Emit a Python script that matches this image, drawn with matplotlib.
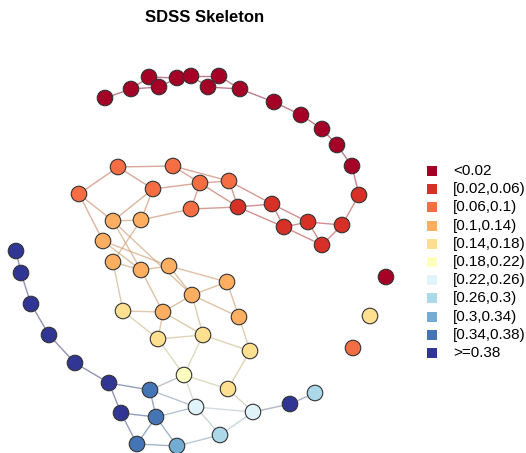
import numpy as np
import matplotlib
import matplotlib.pyplot as plt
from matplotlib.collections import LineCollection
from matplotlib.colors import to_rgb

matplotlib.use('agg')
plt.rcParams['font.family'] = ['Liberation Sans', 'DejaVu Sans']

# legend classes (RdYlBu, 11 bins)
class_labels = ['<0.02', '[0.02,0.06)', '[0.06,0.1)', '[0.1,0.14)', '[0.14,0.18)',
                '[0.18,0.22)', '[0.22,0.26)', '[0.26,0.3)', '[0.3,0.34)',
                '[0.34,0.38)', '>=0.38']
class_colors = ['#a50026', '#d73027', '#f46d43', '#fdae61', '#fee090', '#ffffbf',
                '#e0f3f8', '#abd9e9', '#74add1', '#4575b4', '#313695']

# node layout (screen coords) and class of each node
node_x = [105, 131, 149, 159, 177, 191, 208, 219, 240, 274, 301, 322, 337, 352,
          359, 342, 322, 308, 284, 272, 238,
          229, 200, 191, 153, 173, 118, 79,
          113, 141, 103, 113, 141, 169, 227, 192, 163, 239,
          123, 158, 203, 250, 184, 228,
          196, 253, 290, 315, 220, 177, 137, 156, 150, 121, 109, 75, 49, 31, 21, 16,
          386, 370, 353]
node_y = [98, 89, 77, 87, 78, 76, 87, 76, 89, 102, 115, 129, 145, 166,
          195, 225, 245, 222, 227, 204, 207,
          181, 183, 209, 189, 166, 167, 194,
          221, 220, 241, 262, 270, 266, 282, 295, 312, 317,
          311, 339, 335, 351, 375, 389,
          407, 412, 404, 393, 435, 446, 444, 417, 390, 413, 383, 363, 335, 304, 273, 251,
          277, 316, 348]
node_class = [0, 0, 0, 0, 0, 0, 0, 0, 0, 0, 0, 0, 0, 0,
              1, 1, 1, 1, 1, 1, 1,
              2, 2, 2, 2, 2, 2, 2,
              3, 3, 3, 3, 3, 3, 3, 3, 3, 3,
              4, 4, 4, 4, 5, 4,
              6, 6, 10, 7, 7, 8, 9, 9, 9, 10, 10, 10, 10, 10, 10, 10,
              0, 4, 2]

edges = [(0, 1), (1, 2), (1, 3), (2, 4), (3, 4), (4, 5), (5, 7), (5, 6), (6, 8),
         (7, 8), (8, 9), (9, 10), (10, 11), (11, 12), (12, 13), (13, 14),
         (14, 15), (15, 16), (15, 17), (16, 17), (16, 18), (17, 18), (17, 19),
         (18, 19), (20, 19), (20, 18), (21, 19), (21, 20),
         (26, 25), (26, 27), (26, 24), (25, 22), (25, 21), (24, 22), (22, 21),
         (22, 23), (22, 20), (23, 20), (24, 28), (24, 29), (28, 29), (29, 23),
         (27, 28), (27, 30), (28, 32), (28, 35), (29, 31), (30, 33), (30, 32),
         (31, 32), (31, 38), (32, 33), (32, 36), (33, 34), (33, 35), (34, 35),
         (34, 37), (35, 37), (35, 36), (35, 40), (36, 40), (36, 39), (38, 36),
         (38, 39), (39, 40), (40, 41), (37, 41), (40, 42), (39, 42), (42, 43),
         (41, 43), (42, 52), (42, 44), (43, 45), (44, 45), (44, 48), (45, 48),
         (45, 46), (46, 47), (48, 49), (49, 50), (50, 51), (51, 52), (51, 53),
         (53, 50), (53, 54), (54, 52), (52, 44), (51, 44), (51, 49), (54, 55),
         (55, 56), (56, 57), (57, 58), (58, 59)]

fig = plt.figure(figsize=(5.26, 4.53), dpi=100)
ax = fig.add_axes([0, 0, 1, 1])
ax.set_xlim(0, 526)
ax.set_ylim(453, 0)
ax.axis('off')

xy = np.column_stack([node_x, node_y])
segs, ecols = [], []
grey = np.array([0.42, 0.42, 0.45])
for a, b in edges:
    segs.append([xy[a], xy[b]])
    avg = (np.array(to_rgb(class_colors[node_class[a]])) +
           np.array(to_rgb(class_colors[node_class[b]]))) / 2
    c = 0.65 * avg + 0.35 * grey
    ecols.append((*c, 0.6))
ax.add_collection(LineCollection(segs, colors=ecols, linewidths=1.0, zorder=1))

ax.scatter(node_x, node_y, s=125, c=[class_colors[k] for k in node_class],
           edgecolors='#333333', linewidths=0.8, zorder=2)

ax.text(205, 17, 'SDSS Skeleton', ha='center', va='center',
        fontsize=12, fontweight='bold')

# legend
for i, (lab, col) in enumerate(zip(class_labels, class_colors)):
    y = 171 + 18.2 * i
    ax.scatter([432], [y], marker='s', s=50, color=col, linewidths=0)
    ax.text(453, y, lab, va='center', ha='left', fontsize=11)

fig.savefig('out.png', dpi=100)
